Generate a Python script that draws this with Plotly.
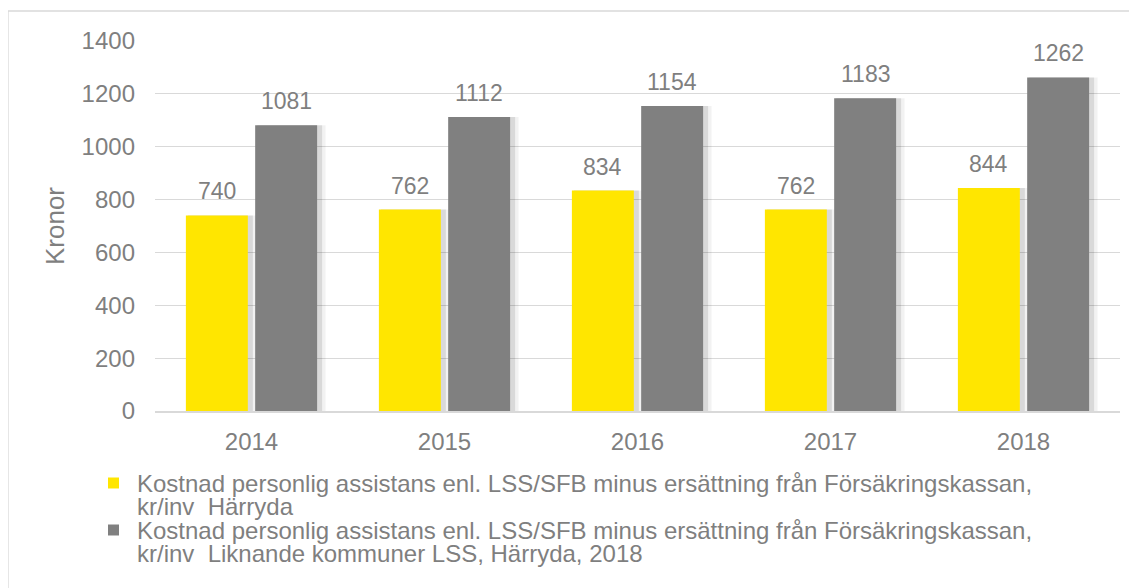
import plotly.graph_objects as go

# ---- data ----
years = ["2014", "2015", "2016", "2017", "2018"]
harryda = [740, 762, 834, 762, 844]
liknande = [1081, 1112, 1154, 1183, 1262]
legend_lines = [
    ["Kostnad personlig assistans enl. LSS/SFB minus ersättning från Försäkringskassan,",
     "kr/inv\u00a0 Härryda"],
    ["Kostnad personlig assistans enl. LSS/SFB minus ersättning från Försäkringskassan,",
     "kr/inv\u00a0 Liknande kommuner LSS, Härryda, 2018"],
]
y_tickvals = [0, 200, 400, 600, 800, 1000, 1200, 1400]
y_title = "Kronor"

# ---- style / layout (page pixel positions; page has an 8px body margin) ----
OFF = 8
W, H = 1137 - OFF, 588 - OFF
PL, PR, PT, PB = 155, 1120, 41, 411          # plot area in page px
TXT = "#7f7f7f"
GRID = "#d9d9d9"
FONT = "Liberation Sans, Arial, sans-serif"
colors = ["#FFE600", "#808080"]
bw = 0.321
offsets = [-0.34, 0.019]
cat_px = (PR - PL) / len(years)


def px_x(p):
    return (p - PL) / (PR - PL)


def px_y(p):
    return (PB - p) / (PB - PT)


fig = go.Figure()

# soft shadows (drawn first)
for vals, off in zip([harryda, liknande], offsets):
    fig.add_trace(go.Bar(x=years, y=vals, offset=off + 0.012, width=bw + 0.032,
                         marker=dict(color="rgba(0,0,0,0.05)", line_width=0),
                         showlegend=False, hoverinfo="skip"))
    fig.add_trace(go.Bar(x=years, y=vals, offset=off + 0.01, width=bw + 0.016,
                         marker=dict(color="rgba(0,0,0,0.10)", line_width=0),
                         showlegend=False, hoverinfo="skip"))

annotations = []
for vals, off, col, lines in zip([harryda, liknande], offsets, colors, legend_lines):
    fig.add_trace(go.Bar(x=years, y=vals, offset=off, width=bw, name=" ".join(lines),
                         marker=dict(color=col, line_width=0),
                         showlegend=False))
    # value labels above each bar (x given as category index)
    for i, v in enumerate(vals):
        annotations.append(dict(x=i, y=v, xref="x", yref="y", text=str(v), showarrow=False,
                                xshift=(off + bw / 2) * cat_px, yshift=24,
                                xanchor="center", yanchor="middle",
                                font=dict(size=23, color=TXT, family=FONT)))

# legend drawn as text + swatches (Excel-style tight line spacing)
shapes = [dict(type="rect", xref="paper", yref="paper",
               x0=px_x(8), x1=px_x(1150), y0=px_y(600), y1=px_y(11),
               line=dict(color=GRID, width=1.3), fillcolor="rgba(0,0,0,0)", layer="below")]
line_y = [[483, 506], [530, 553]]
for col, lines, ys in zip(colors, legend_lines, line_y):
    for txt, yy in zip(lines, ys):
        annotations.append(dict(text=txt, xref="paper", yref="paper", x=px_x(135), y=px_y(yy),
                                xanchor="left", yanchor="middle", showarrow=False,
                                font=dict(size=24, color=TXT, family=FONT)))
    shapes.append(dict(type="rect", xref="paper", yref="paper",
                       x0=px_x(108), x1=px_x(119), y0=px_y(ys[0] + 5.5), y1=px_y(ys[0] - 5.5),
                       line_width=0, fillcolor=col))

fig.update_layout(
    width=W, height=H,
    margin=dict(l=PL - OFF, r=W - (PR - OFF), t=PT - OFF, b=H - (PB - OFF), autoexpand=False),
    barmode="overlay",
    paper_bgcolor="white", plot_bgcolor="white",
    font=dict(family=FONT, color=TXT, size=24),
    showlegend=False,
    annotations=annotations,
    shapes=shapes,
)
fig.update_xaxes(type="category", categoryorder="array", categoryarray=years,
                 range=[-0.5, len(years) - 0.5], autorange=False,
                 showgrid=False, showline=True, linecolor=GRID, linewidth=1.5,
                 ticks="", tickfont=dict(size=24, color=TXT), ticklabelstandoff=8)
fig.update_yaxes(range=[0, 1400], autorange=False, tickvals=y_tickvals, showgrid=True,
                 gridcolor=GRID, gridwidth=1.3,
                 zeroline=False, showline=False, ticks="", tickfont=dict(size=24, color=TXT),
                 ticklabelstandoff=19,
                 title=dict(text=y_title, font=dict(size=26, color=TXT), standoff=9))

fig.write_html("out.html")
